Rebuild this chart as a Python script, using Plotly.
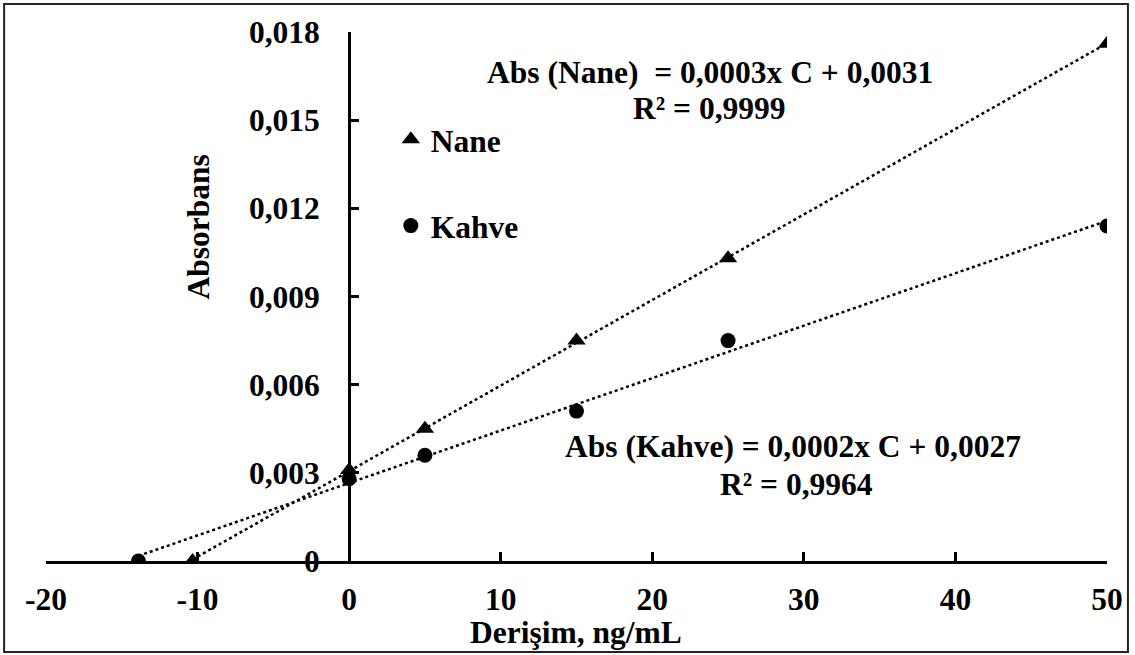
import numpy as np
import plotly.graph_objects as go

# Calibration data: concentration (ng/mL) vs absorbance
nane_x = [-10.33, 0, 5, 15, 25, 50]
nane_y = [0.0, 0.0031, 0.0045, 0.0075, 0.0103, 0.0176]
kahve_x = [-13.9, 0, 5, 15, 25, 50]
kahve_y = [0.0, 0.0028, 0.0036, 0.0051, 0.0075, 0.0114]

x_ticks = [-20, -10, 0, 10, 20, 30, 40, 50]
x_tick_text = ["-20", "-10", "0", "10", "20", "30", "40", "50"]
y_ticks = [0, 0.003, 0.006, 0.009, 0.012, 0.015, 0.018]
y_tick_text = ["0", "0,003", "0,006", "0,009", "0,012", "0,015", "0,018"]

eq_nane = "Abs (Nane)  = 0,0003x C + 0,0031"
r2_nane = "R² = 0,9999"
eq_kahve = "Abs (Kahve) = 0,0002x C + 0,0027"
r2_kahve = "R² = 0,9964"

FONT = "Liberation Serif"
FS = 31.5
X_MIN, X_MAX = -20, 50
W, H = 1135, 655
ML, MR, MT, MB = 46, 25, 32, 94


def trend(xs, ys):
    slope, icpt = np.polyfit(xs, ys, 1)
    xe = np.array([min(xs), max(xs)])
    return xe, slope * xe + icpt


def px_to_paper(px, py):
    return ((px - ML) / (W - ML - MR), (H - MB - py) / (H - MT - MB))


fig = go.Figure()

for xs, ys in ((nane_x, nane_y), (kahve_x, kahve_y)):
    tx, ty = trend(xs, ys)
    fig.add_trace(go.Scatter(
        x=tx, y=ty, mode="lines", showlegend=False, hoverinfo="skip",
        line=dict(color="black", width=2.5, dash="dot"),
    ))

fig.add_trace(go.Scatter(
    x=nane_x, y=nane_y, mode="markers", name="Nane", legend="legend",
    marker=dict(symbol="triangle-up", size=16, color="black"),
))
fig.add_trace(go.Scatter(
    x=kahve_x, y=kahve_y, mode="markers", name="Kahve", legend="legend2",
    marker=dict(symbol="circle", size=15, color="black"),
))

legend_style = dict(
    font=dict(family=FONT, size=FS, color="black", weight="bold"),
    bgcolor="rgba(0,0,0,0)", xanchor="left", yanchor="middle",
    itemsizing="trace",
)

fig.update_layout(
    width=W, height=H,
    margin=dict(l=ML, r=MR, t=MT, b=MB),
    paper_bgcolor="white", plot_bgcolor="white",
    font=dict(family=FONT, size=FS, color="black", weight="bold"),
    legend=dict(x=0.325, y=0.797, **legend_style),
    legend2=dict(x=0.325, y=0.634, **legend_style),
    xaxis=dict(
        range=[X_MIN, X_MAX], tickvals=x_ticks, ticktext=x_tick_text,
        ticks="inside", ticklen=9,
        tickwidth=2.5, tickcolor="black", showline=True, linewidth=3,
        linecolor="black", showgrid=False, zeroline=False,
        ticklabelstandoff=8, domain=[0, 1],
    ),
    yaxis=dict(
        range=[0, 0.018], tickvals=y_ticks, ticktext=y_tick_text,
        ticks="inside", ticklen=8, tickwidth=2.5, tickcolor="black",
        showline=True, linewidth=3, linecolor="black", showgrid=False,
        zeroline=False, anchor="free",
        position=(0 - X_MIN) / (X_MAX - X_MIN), ticklabelstandoff=22,
    ),
)

# outer frame around the whole chart
x0, y0 = px_to_paper(4, 4)
x1, y1 = px_to_paper(1131, 652)
fig.add_shape(type="rect", xref="paper", yref="paper", x0=x0, y0=y1,
              x1=x1, y1=y0, line=dict(color="#222222", width=2),
              layer="below")

ann_font = dict(family=FONT, size=FS, color="black", weight="bold")
for text, x, y in (
    (eq_nane, 23.8, 0.01663),
    (r2_nane, 23.8, 0.01541),
    (eq_kahve, 29.3, 0.00391),
    (r2_kahve, 29.5, 0.00259),
):
    fig.add_annotation(text=text, x=x, y=y, xref="x", yref="y",
                       showarrow=False, font=ann_font,
                       xanchor="center", yanchor="middle")

# axis titles
ax, ay = px_to_paper(199, 227)
fig.add_annotation(text="Absorbans", x=ax, y=ay, xref="paper",
                   yref="paper", showarrow=False, textangle=-90,
                   font=ann_font, xanchor="center", yanchor="middle")
tx_, ty_ = px_to_paper(577, 632)
fig.add_annotation(text="Derişim, ng/mL", x=tx_, y=ty_, xref="paper",
                   yref="paper", showarrow=False, font=ann_font,
                   xanchor="center", yanchor="middle")

fig.write_html("out.html")
